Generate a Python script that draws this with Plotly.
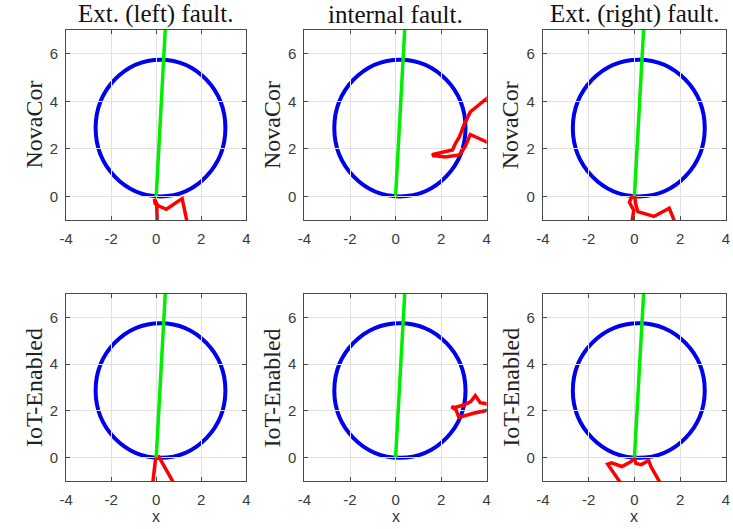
import plotly.graph_objects as go

# ---------------- data ----------------
col_titles = ["Ext. (left) fault.", "internal fault.", "Ext. (right) fault."]
row_labels = ["NovaCor", "IoT-Enabled"]
x_ticks = [-4, -2, 0, 2, 4]
x_tick_text = ["-4", "-2", "0", "2", "4"]
y_ticks = [0, 2, 4, 6]
y_tick_text = ["0", "2", "4", "6"]
x_range = [-4, 4]
y_range = [-1, 7]

# mho circle (center / radius)
circle_cx = 0.19
circle_cy = 2.87
circle_r = 2.88

# line impedance (green)
line_x = [0.0, 0.42]
line_y = [0.0, 7.35]

# impedance trajectories (red), row-major: NovaCor L/I/R, IoT-Enabled L/I/R
traj_x = [
    [0.05, 0.02, -0.08, -0.05, 0.10, 0.45, 1.15, 1.42],
    [4.30, 3.64, 3.28, 3.06, 2.80, 2.20, 1.62, 1.66, 2.00, 2.50, 2.63, 2.80, 3.00, 3.28, 3.57, 4.30],
    [-0.15, -0.03, -0.22, -0.12, 0.02, 0.05, 0.15, 0.85, 1.52, 1.85],
    [-0.18, -0.03, 0.12, 0.25, 0.90],
    [4.30, 3.42, 2.78, 2.65, 2.45, 2.60, 3.00, 3.30, 3.50, 3.72, 4.30],
    [-0.45, -1.17, -1.00, -0.55, -0.20, 0.00, 0.07, 0.30, 0.62, 0.72, 1.25],
]
traj_y = [
    [-1.30, -0.30, -0.12, -0.30, -0.40, -0.55, -0.10, -1.30],
    [2.15, 2.44, 2.60, 2.10, 1.74, 1.65, 1.72, 1.77, 1.83, 1.95, 2.23, 2.50, 3.00, 3.55, 3.78, 4.35],
    [-1.30, -0.60, -0.25, -0.03, -0.05, -0.30, -0.65, -0.85, -0.50, -1.30],
    [-1.30, -0.05, 0.03, -0.20, -1.30],
    [2.08, 1.90, 1.72, 2.05, 2.18, 2.15, 2.25, 2.40, 2.65, 2.35, 2.25],
    [-1.30, -0.28, -0.22, -0.38, -0.20, -0.05, -0.25, -0.30, -0.12, -0.38, -1.30],
]

# ---------------- layout geometry ----------------
W, H = 733, 529
x_dom_px = [(60, 243), (302, 487), (544, 730)]
y_dom_px = [(30, 220), (294, 481)]  # top, bottom (pixels from top)

fig = go.Figure()
shapes = []
annotations = []

axis_common = dict(
    showgrid=True, gridcolor="#e1e1e1", gridwidth=1,
    zeroline=False,
    showline=True, linecolor="#4a4a4a", linewidth=1, mirror="ticks",
    ticks="inside", ticklen=4, tickcolor="#4a4a4a",
    tickfont=dict(family="Liberation Sans, Arial, sans-serif", size=15, color="#3a3a3a"),
    fixedrange=True,
)

for r in range(2):
    for c in range(3):
        k = r * 3 + c
        idx = k + 1
        xa = "x" if idx == 1 else f"x{idx}"
        ya = "y" if idx == 1 else f"y{idx}"
        xd = [x_dom_px[c][0] / W, x_dom_px[c][1] / W]
        yd = [1 - y_dom_px[r][1] / H, 1 - y_dom_px[r][0] / H]

        xaxis = dict(axis_common, range=x_range, tickvals=x_ticks, ticktext=x_tick_text,
                     domain=xd, anchor=ya, ticklabelstandoff=5)
        yaxis = dict(axis_common, range=y_range, tickvals=y_ticks, ticktext=y_tick_text,
                     domain=yd, anchor=xa, ticklabelstandoff=4)
        fig.update_layout(**{("xaxis" if idx == 1 else f"xaxis{idx}"): xaxis,
                             ("yaxis" if idx == 1 else f"yaxis{idx}"): yaxis})

        # mho circle
        shapes.append(dict(type="circle", xref=xa, yref=ya, layer="below",
                           x0=circle_cx - circle_r, x1=circle_cx + circle_r,
                           y0=circle_cy - circle_r, y1=circle_cy + circle_r,
                           line=dict(color="#0000f0", width=4)))
        # trajectory
        fig.add_trace(go.Scatter(x=traj_x[k], y=traj_y[k], mode="lines",
                                 line=dict(color="#ff0000", width=3.5),
                                 xaxis=xa, yaxis=ya, showlegend=False,
                                 hoverinfo="skip"))
        # line impedance
        fig.add_trace(go.Scatter(x=line_x, y=line_y, mode="lines",
                                 line=dict(color="#00ee00", width=3.5),
                                 xaxis=xa, yaxis=ya, showlegend=False,
                                 hoverinfo="skip"))

        # y label
        ylab_x = (x_dom_px[c][0] - 33) / W
        ylab_y = 1 - ((y_dom_px[r][0] + y_dom_px[r][1]) / 2) / H
        annotations.append(dict(text=row_labels[r], xref="paper", yref="paper",
                                x=ylab_x, y=ylab_y, textangle=-90,
                                xanchor="center", yanchor="middle", showarrow=False,
                                font=dict(family="Liberation Serif, Times New Roman, serif",
                                          size=24, color="#222222")))
        if r == 0:
            annotations.append(dict(text=col_titles[c], xref="paper", yref="paper",
                                    x=((x_dom_px[c][0] + x_dom_px[c][1]) / 2) / W,
                                    y=1 - 14 / H, xanchor="center", yanchor="middle",
                                    showarrow=False,
                                    font=dict(family="Liberation Serif, Times New Roman, serif",
                                              size=25, color="#111111")))
        if r == 1:
            annotations.append(dict(text="x", xref="paper", yref="paper",
                                    x=((x_dom_px[c][0] + x_dom_px[c][1]) / 2) / W,
                                    y=1 - 516 / H, xanchor="center", yanchor="middle",
                                    showarrow=False,
                                    font=dict(family="Liberation Sans, Arial, sans-serif",
                                              size=16, color="#333333")))

fig.update_layout(width=W, height=H, margin=dict(l=0, r=0, t=0, b=0),
                  paper_bgcolor="white", plot_bgcolor="white",
                  shapes=shapes, annotations=annotations)

fig.write_html("out.html")
